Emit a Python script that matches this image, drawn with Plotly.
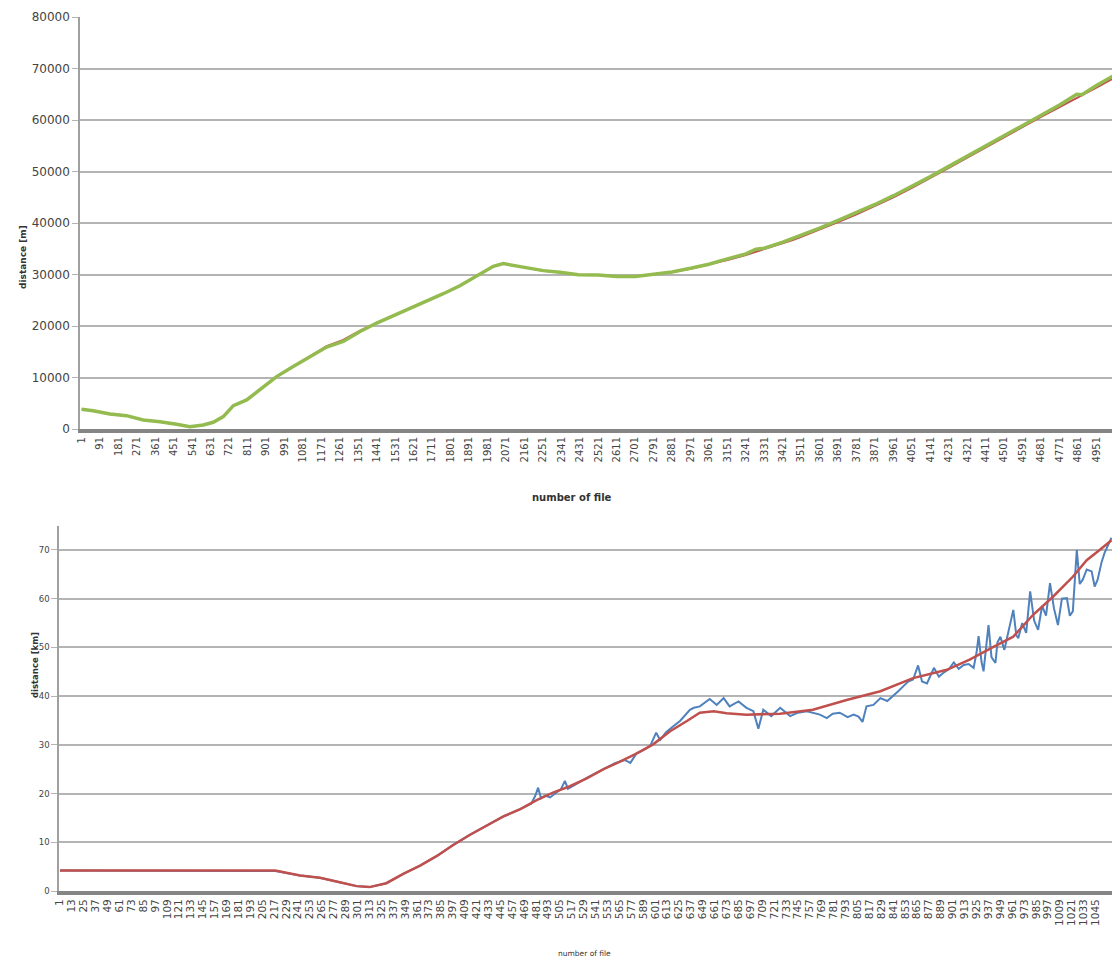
import plotly.graph_objects as go

# ---------------- data: top chart (distance in m) ----------------
TOP_FILES = [1, 57, 139, 220, 301, 383, 464, 529, 594, 643, 692, 741, 806, 871,
             952, 1033, 1115, 1196, 1277, 1359, 1440, 1521, 1602, 1684, 1765,
             1846, 1928, 2009, 2058, 2172, 2253, 2334, 2424, 2521, 2611, 2701,
             2791, 2881, 2971, 3061, 3120, 3151, 3241, 3290, 3331, 3421, 3470,
             3511, 3601, 3691, 3781, 3871, 3961, 4051, 4141, 4231, 4321, 4411,
             4501, 4591, 4681, 4771, 4855, 4880, 4951, 5030]
TOP_RAW = [3830, 3560, 2920, 2590, 1750, 1420, 910, 450, 780, 1300, 2400, 4540,
           5640, 7590, 10180, 12120, 14070, 15900, 16990, 18930, 20570, 21990,
           23290, 24770, 26270, 27820, 29640, 31580, 32110, 31270, 30750, 30420,
           29970, 29900, 29600, 29600, 30000, 30500, 31200, 32000, 32700, 33000,
           34000, 34900, 35100, 36300, 37000, 37600, 39000, 40500, 42000, 43600,
           45300, 47100, 49000, 51000, 53000, 55000, 57000, 59000, 61000, 62900,
           65000, 64900, 66700, 68500]
TOP_SMOOTH = [3830, 3560, 2920, 2590, 1750, 1420, 910, 450, 780, 1300, 2400, 4540,
              5640, 7590, 10180, 12120, 14070, 16100, 17300, 19100, 20570, 21990,
              23290, 24770, 26270, 27820, 29640, 31580, 32110, 31270, 30750, 30420,
              29970, 29900, 29600, 29600, 30000, 30500, 31100, 31900, 32400, 32800,
              33800, 34400, 34900, 36000, 36700, 37300, 38700, 40200, 41700, 43300,
              45000, 46800, 48700, 50700, 52700, 54700, 56700, 58700, 60600, 62500,
              64200, 64700, 66300, 68000]
TOP_TICKS = list(range(1, 4952, 90))

# ---------------- data: bottom chart (distance in km) ----------------
BOT_FILES_SMOOTH = [1, 100, 200, 218, 243, 263, 283, 300, 313, 330, 347, 364, 381,
                    397, 414, 431, 448, 465, 482, 498, 515, 532, 549, 565, 582,
                    599, 616, 633, 646, 660, 673, 693, 727, 760, 794, 828, 861,
                    895, 918, 942, 962, 982, 1002, 1022, 1036, 1049, 1061]
BOT_SMOOTH = [4.2, 4.2, 4.2, 4.2, 3.2, 2.7, 1.8, 1.0, 0.8, 1.6, 3.5, 5.2, 7.2,
              9.4, 11.5, 13.4, 15.3, 16.8, 18.7, 20.2, 21.5, 23.1, 25.0, 26.5, 28.2,
              30.1, 32.8, 34.9, 36.6, 36.9, 36.5, 36.2, 36.4, 37.2, 39.2, 41.0, 43.7,
              45.4, 47.5, 50.1, 52.2, 56.7, 60.4, 64.5, 67.9, 70.0, 72.0]

BOT_FILES_RAW = [1, 200, 218, 243, 263, 283, 300, 313, 330, 347, 364, 381, 397,
                 414, 431, 448, 465, 476, 480, 483, 486, 490, 495, 500, 506, 510,
                 513, 520, 532, 549, 560, 570, 576, 582, 590, 596, 602, 606, 612,
                 618, 626, 636, 640, 646, 656, 663, 670, 676, 685, 693, 700, 705,
                 710, 718, 727, 737, 745, 754, 767, 774, 780, 787, 795, 801, 806,
                 810, 814, 821, 828, 835, 841, 846, 851, 856, 861, 866, 870, 875,
                 882, 887, 891, 897, 902, 907, 912, 917, 922, 925, 927, 930, 932,
                 935, 937, 940, 944, 946, 949, 953, 957, 962, 965, 967, 971, 975,
                 979, 983, 987, 991, 995, 999, 1003, 1007, 1011, 1016, 1019, 1022,
                 1026, 1029, 1032, 1036, 1041, 1044, 1047, 1051, 1054, 1058, 1061]
BOT_RAW = [4.2, 4.2, 4.1, 3.2, 2.7, 1.8, 1.0, 0.8, 1.6, 3.5, 5.2, 7.2, 9.4,
           11.5, 13.4, 15.3, 16.8, 17.9, 19.5, 21.2, 19.0, 19.6, 19.2, 20.0, 20.9, 22.6,
           21.0, 21.8, 23.2, 25.0, 26.2, 26.9, 26.3, 28.2, 29.0, 29.8, 32.5, 31.0, 32.6,
           33.6, 34.9, 37.2, 37.6, 37.9, 39.4, 38.2, 39.6, 37.9, 38.9, 37.6, 36.9, 33.3,
           37.2, 35.9, 37.6, 35.9, 36.6, 36.9, 36.2, 35.5, 36.4, 36.6, 35.7, 36.2, 35.8,
           34.7, 37.9, 38.2, 39.6, 39.0, 40.0, 41.0, 42.0, 43.0, 43.4, 46.3, 43.0, 42.6,
           45.8, 44.0, 44.7, 45.5, 46.9, 45.6, 46.4, 46.6, 45.8, 49.0, 52.3, 47.0, 45.1,
           50.5, 54.6, 48.0, 46.8, 51.0, 52.2, 49.5, 53.0, 57.7, 52.5, 51.9, 55.0, 53.0,
           61.5, 55.5, 53.6, 58.5, 56.5, 63.2, 58.0, 54.6, 60.0, 60.1, 56.5, 57.4,
           70.0, 63.0, 63.9, 66.0, 65.6, 62.5, 63.9, 67.5, 69.4, 71.0, 72.5]
BOT_TICKS = list(range(1, 1058, 12))

GREEN = "#94bb4f"
RED = "#c0504d"
BLUE = "#4f81bd"
GRID = "#b4b4b4"
FONT = "DejaVu Sans"

W, H = 1112, 967

fig = go.Figure()
fig.add_trace(go.Scatter(x=TOP_FILES, y=TOP_SMOOTH, mode="lines",
                         line=dict(color=RED, width=2), xaxis="x", yaxis="y",
                         showlegend=False))
fig.add_trace(go.Scatter(x=TOP_FILES, y=TOP_RAW, mode="lines",
                         line=dict(color=GREEN, width=3.5), xaxis="x", yaxis="y",
                         showlegend=False))
fig.add_trace(go.Scatter(x=BOT_FILES_RAW, y=BOT_RAW, mode="lines",
                         line=dict(color=BLUE, width=2), xaxis="x2", yaxis="y2",
                         showlegend=False))
fig.add_trace(go.Scatter(x=BOT_FILES_SMOOTH, y=BOT_SMOOTH, mode="lines",
                         line=dict(color=RED, width=2.5), xaxis="x2", yaxis="y2",
                         showlegend=False))

common_x = dict(showgrid=False, zeroline=False, showline=True, linecolor="#858585",
                linewidth=4, tickangle=-90, ticks="", automargin=False)
common_y = dict(showgrid=True, gridcolor=GRID, gridwidth=1.5, zeroline=False,
                showline=True, linecolor="#a0a0a0", linewidth=1.5, ticks="outside",
                ticklen=6, tickcolor=GRID, automargin=False)

fig.update_layout(
    width=W, height=H, autosize=False,
    margin=dict(l=0, r=0, t=0, b=0, pad=0),
    paper_bgcolor="white", plot_bgcolor="white",
    font=dict(family=FONT, color="#333333"),
    xaxis=dict(domain=[80 / W, 1], anchor="y", range=[-7, 5027],
               tickmode="array", tickvals=TOP_TICKS,
               ticktext=[str(t) for t in TOP_TICKS],
               tickfont=dict(size=10, family=FONT, color="#444444"), **common_x),
    yaxis=dict(domain=[1 - 429 / H, 1 - 17 / H], anchor="x", range=[0, 80000],
               dtick=10000, tickformat="d",
               tickfont=dict(size=12, family=FONT, color="#444444"), **common_y),
    xaxis2=dict(domain=[59 / W, 1], anchor="y2", range=[0, 1061.5],
                tickmode="array", tickvals=BOT_TICKS,
                ticktext=[str(t) for t in BOT_TICKS],
                tickfont=dict(size=10.5, family=FONT, color="#444444"), **common_x),
    yaxis2=dict(domain=[1 - 891 / H, 1 - 525.6 / H], anchor="x2", range=[0, 75],
                tickmode="array", tickvals=[0, 10, 20, 30, 40, 50, 60, 70],
                tickfont=dict(size=8.5, family=FONT, color="#444444"), **common_y),
    annotations=[
        dict(text="<b>distance [m]</b>", x=16 / W, y=1 - 223 / H, xref="paper",
             yref="paper", textangle=-90, showarrow=False,
             font=dict(size=9, family=FONT, color="#333333")),
        dict(text="<b>number of file</b>", x=572 / W, y=1 - 497 / H, xref="paper",
             yref="paper", showarrow=False,
             font=dict(size=10, family=FONT, color="#333333")),
        dict(text="<b>distance [km]</b>", x=28 / W, y=1 - 700 / H, xref="paper",
             yref="paper", textangle=-90, showarrow=False,
             font=dict(size=8.5, family=FONT, color="#333333")),
        dict(text="number of file", x=584 / W, y=1 - 960 / H, xref="paper",
             yref="paper", showarrow=False,
             font=dict(size=7.5, family=FONT, color="#333333")),
    ],
)

fig.write_html("out.html",
               config={"displayModeBar": False},
               post_script="document.body.style.margin='0';"
                           "document.body.style.overflow='hidden';")
